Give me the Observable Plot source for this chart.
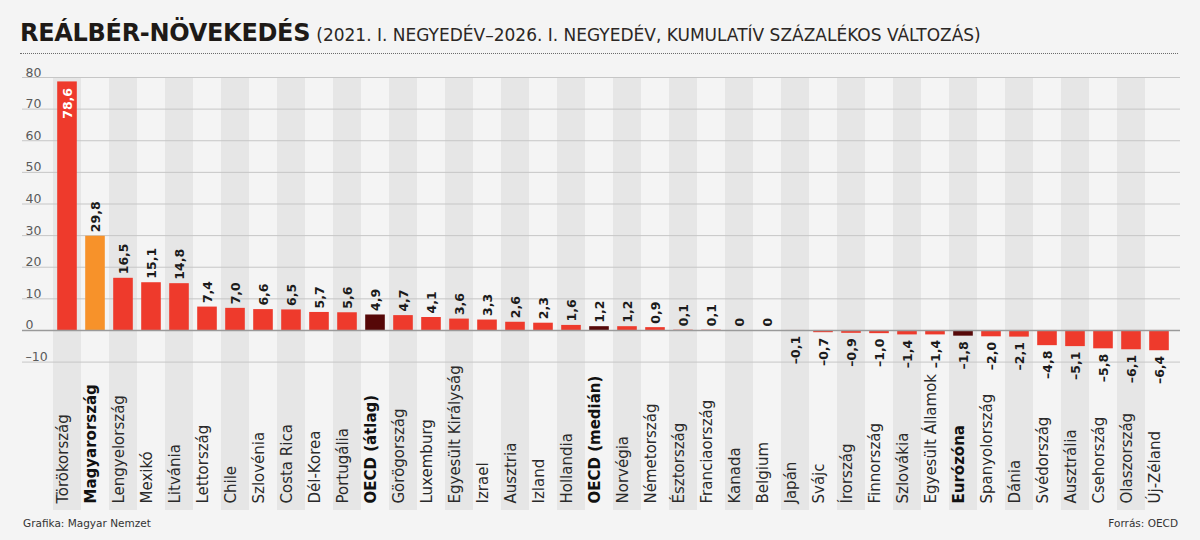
<!DOCTYPE html>
<html lang="hu">
<head>
<meta charset="utf-8">
<script src="https://cdn.jsdelivr.net/npm/d3@7"></script>
<script src="https://cdn.jsdelivr.net/npm/@observablehq/plot@0.6"></script>
<style>
  html, body { margin: 0; padding: 0; background: #f4f4f4; }
  body { width: 1200px; height: 540px; position: relative; overflow: hidden;
         font-family: 'DejaVu Sans', sans-serif; color: #1e1a17; }
  #title { position: absolute; left: 20px; top: 18px; white-space: nowrap; line-height: 30px; }
  #title b { font-size: 24px; font-weight: 800; letter-spacing: -0.3px; color: #1e1a17; }
  #title span { font-size: 17px; color: #2b2724; margin-left: 1px; }
  #rule { position: absolute; left: 20px; top: 53px; width: 1158px; border-top: 1.5px dotted #6b6b6b; }
  #chart { position: absolute; left: 0; top: 60px; }
  .foot { position: absolute; top: 517px; font-size: 10.5px; color: #333; }
  #credit { left: 23px; }
  #source { right: 22px; }
</style>
</head>
<body>
<div id="title"><b>REÁLBÉR-NÖVEKEDÉS</b> <span>(2021. I. NEGYEDÉV–2026. I. NEGYEDÉV, KUMULATÍV SZÁZALÉKOS VÁLTOZÁS)</span></div>
<div id="rule"></div>
<div id="chart"></div>
<div class="foot" id="credit">Grafika: Magyar Nemzet</div>
<div class="foot" id="source">Forrás: OECD</div>
<script>
// Cumulative real wage change, 2021 Q1 – 2026 Q1 (%)
const categories = [
  "Törökország", "Magyarország", "Lengyelország", "Mexikó", "Litvánia",
  "Lettország", "Chile", "Szlovénia", "Costa Rica", "Dél-Korea",
  "Portugália", "OECD (átlag)", "Görögország", "Luxemburg", "Egyesült Királyság",
  "Izrael", "Ausztria", "Izland", "Hollandia", "OECD (medián)",
  "Norvégia", "Németország", "Észtország", "Franciaország", "Kanada",
  "Belgium", "Japán", "Svájc", "Írország", "Finnország",
  "Szlovákia", "Egyesült Államok", "Eurózóna", "Spanyolország", "Dánia",
  "Svédország", "Ausztrália", "Csehország", "Olaszország", "Új-Zéland"
];
const values = [
  78.6, 29.8, 16.5, 15.1, 14.8,
  7.4, 7.0, 6.6, 6.5, 5.7,
  5.6, 4.9, 4.7, 4.1, 3.6,
  3.3, 2.6, 2.3, 1.6, 1.2,
  1.2, 0.9, 0.1, 0.1, 0,
  0, -0.1, -0.7, -0.9, -1.0,
  -1.4, -1.4, -1.8, -2.0, -2.1,
  -4.8, -5.1, -5.8, -6.1, -6.4
];
const highlighted = "Magyarország";
const aggregates = ["OECD (átlag)", "OECD (medián)", "Eurózóna"];
const yTicks = [-10, 0, 10, 20, 30, 40, 50, 60, 70, 80];

const FONT = "'DejaVu Sans', sans-serif";
const RED = "#ee3a2c", ORANGE = "#f7922a", DARK = "#560808";

const data = categories.map((country, i) => ({country, value: values[i]}));
const bold = d => d.country === highlighted || aggregates.includes(d.country);
const barColor = d => d.country === highlighted ? ORANGE : aggregates.includes(d.country) ? DARK : RED;
const dash = "\u2013";
const fmt = v => v === 0 ? "0" : (v < 0 ? dash : "") + Math.abs(v).toFixed(1).replace(".", ",");
const tickFmt = v => (v < 0 ? dash : "") + Math.abs(v);

const labelStyle = {x: "country", y: "value", text: d => fmt(d.value), rotate: -90,
  fontSize: 12.5, fontWeight: "bold", fill: "#1b1b1b"};
const nameStyle = {x: "country", text: "country", frameAnchor: "bottom", rotate: -90,
  textAnchor: "start", dy: -7, fontSize: 15, fill: "#2a2a2a"};

const chart = Plot.plot({
  width: 1200,
  height: 452,
  marginTop: 18,
  marginBottom: 2,
  marginLeft: 46,
  marginRight: 20,
  style: {background: "transparent", fontFamily: FONT, overflow: "visible"},
  x: {domain: categories, padding: 0, axis: null},
  y: {domain: [-10, 80], range: [301.6, 17], axis: null},
  color: {type: "identity"},
  marks: [
    // alternating column bands
    Plot.cell(categories.filter((d, i) => i % 2 === 0), {x: d => d, fill: "#e6e6e6"}),
    // gridlines
    Plot.ruleY(yTicks.filter(t => t !== 0), {y: d => d, stroke: "#c6c6c6", strokeWidth: 1, insetLeft: -24}),
    Plot.text(yTicks, {y: d => d, text: tickFmt, frameAnchor: "left", textAnchor: "start",
      lineAnchor: "bottom", dx: -21, dy: -1, fontSize: 12.5, fill: "#5a5a5a"}),
    // bars
    Plot.barY(data, {x: "country", y: "value", fill: barColor, insetLeft: 4.2, insetRight: 4.2}),
    Plot.ruleY([0], {stroke: "#9a9a9a", strokeWidth: 1.5, insetLeft: -24}),
    // value labels: above positive bars, inside the tallest, below negative ones
    Plot.text(data.filter(d => d.value >= 0 && d.value < 60), {...labelStyle, textAnchor: "start", dy: -4}),
    Plot.text(data.filter(d => d.value >= 60), {...labelStyle, textAnchor: "end", dy: 6, fill: "#ffffff"}),
    Plot.text(data.filter(d => d.value < 0), {...labelStyle, textAnchor: "end", dy: 5}),
    // category names
    Plot.text(data.filter(d => !bold(d)), nameStyle),
    Plot.text(data.filter(bold), {...nameStyle, fontWeight: "bold", fill: "#111"})
  ]
});
document.getElementById("chart").appendChild(chart);
</script>
</body>
</html>
